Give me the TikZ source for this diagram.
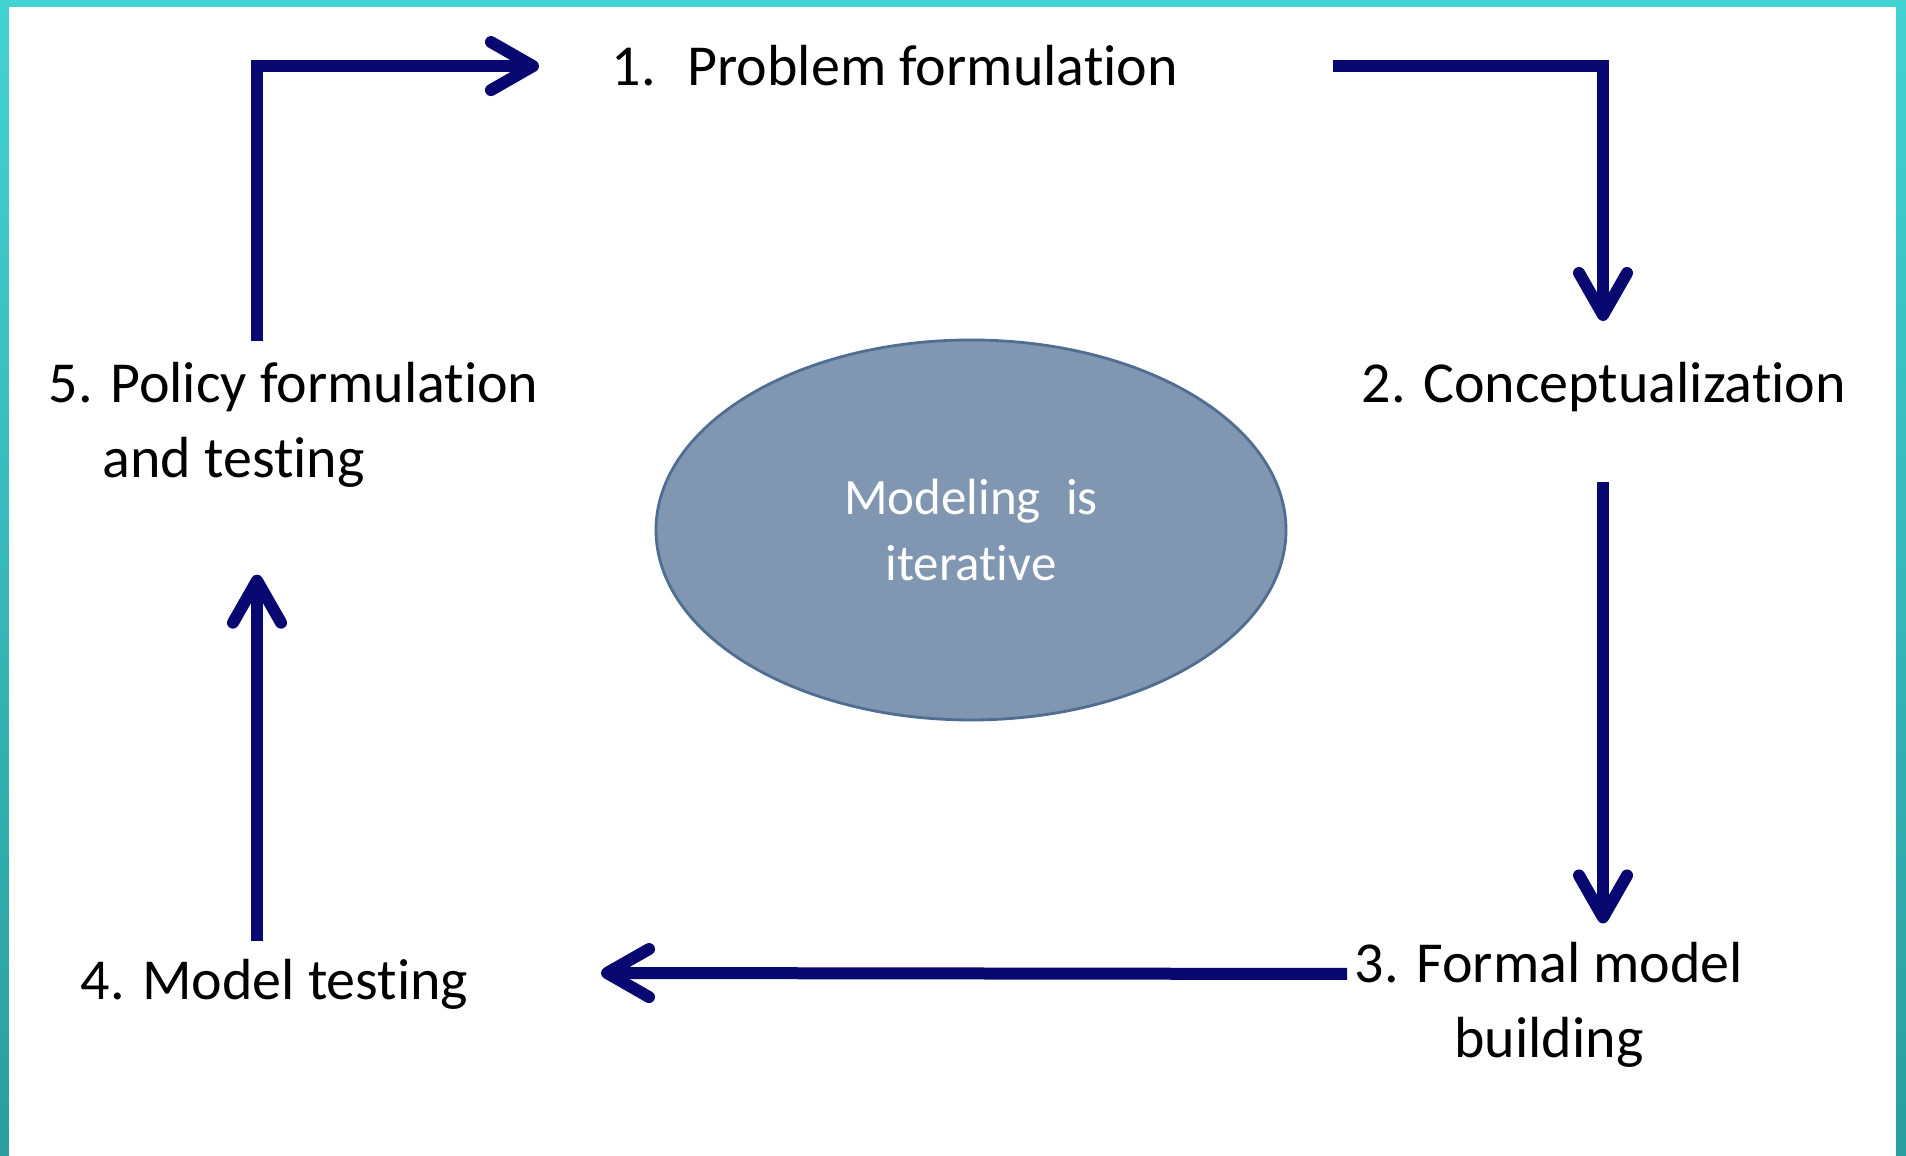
\documentclass[tikz,border=0pt]{standalone}
\usepackage{fontspec}
\setmainfont{Carlito}[Ligatures=NoCommon]
\usetikzlibrary{arrows.meta,calc,positioning,shapes.geometric}

\definecolor{arrowblue}{RGB}{8,8,112}
\definecolor{ovalfill}{RGB}{128,150,177}
\definecolor{ovaledge}{RGB}{80,110,145}
\definecolor{frametop}{RGB}{66,210,210}
\definecolor{framebot}{RGB}{42,158,160}

\tikzset{
  stage/.style={inner sep=0pt, font=\fontsize{16.5}{21.5}\selectfont},
  flow/.style={draw=arrowblue, line width=0.12cm, -{Straight Barb[length=0.42cm,width=0.48cm,round]}},
}

\begin{document}
\begin{tikzpicture}[x=1cm, y=1cm]
  % Frame
  \useasboundingbox (0,0) rectangle (19.06,11.56);
  \fill[white] (0,0) rectangle (19.06,11.56);
  \shade[top color=frametop, bottom color=framebot] (0,0) rectangle (0.09,11.56);
  \shade[top color=frametop, bottom color=framebot] (18.96,0) rectangle (19.06,11.56);
  \fill[frametop] (0,11.49) rectangle (19.06,11.56);

  % Stages
  \node[stage, anchor=base west] (n1) at (6.11,10.70) {1.\hspace{0.55em}Problem formulation};
  \node[stage, anchor=base west] (n2) at (13.61,7.53) {2. Conceptualization};
  \node[stage, anchor=base, align=center] (n3) at (15.49,0.98) {3. Formal model\\building};
  \node[stage, anchor=base west] (n4) at (0.80,1.56) {4. Model testing};
  \node[stage, anchor=base west, align=left] (n5) at (0.48,6.78) {5. Policy formulation\\\hspace*{0.54cm}and testing};

  % Centre oval
  \node[ellipse, fill=ovalfill, draw=ovaledge, line width=0.8pt, minimum width=6.3cm, minimum height=3.8cm,
        text=white, align=center, font=\fontsize{14.5}{19}\selectfont] (core) at (9.71,6.26) {Modeling\hspace{0.5em}is\\iterative};

  % Loop arrows
  \coordinate (lcol) at (2.57,0);
  \coordinate (rcol) at (16.03,0);
  \draw[flow] ([yshift=2mm]n5.north -| lcol) |- ([xshift=-7.2mm]n1.west);
  \draw[flow] ([xshift=15.4mm]n1.east) -| ([yshift=4.1mm]n2.north -| rcol);
  \draw[flow] ([yshift=-6.9mm]n2.south -| rcol) -- ([yshift=1.8mm]n3.north -| rcol);
  \draw[flow] ([shift={(-0.07,0.84)}]n3.base west) -- ([shift={(1.32,0.27)}]n4.base east);
  \draw[flow] ([yshift=1.8mm]n4.north -| lcol) -- ([yshift=-8.6mm]n5.south -| lcol);
\end{tikzpicture}
\end{document}
